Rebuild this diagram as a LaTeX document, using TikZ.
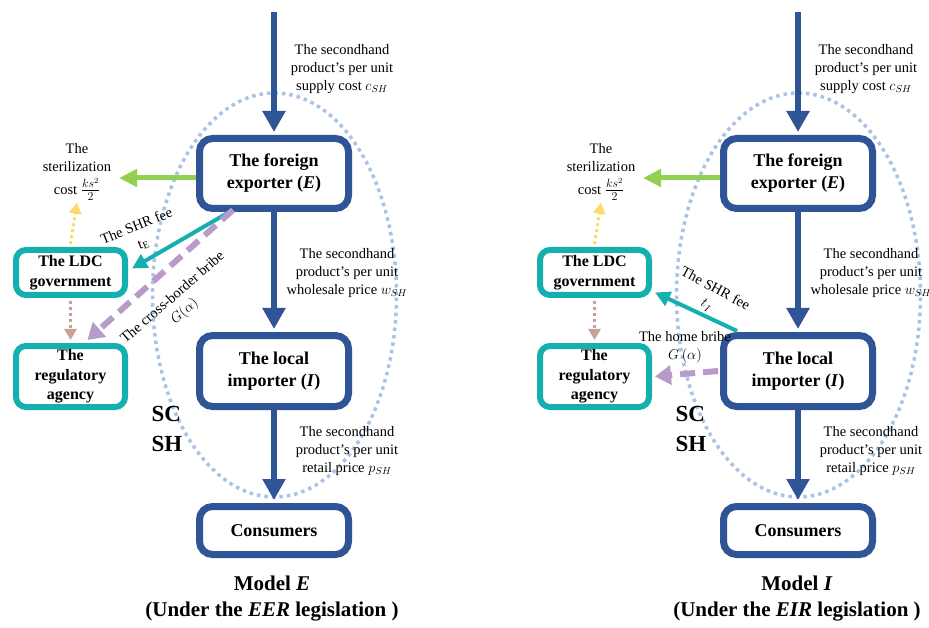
\documentclass[tikz,border=0pt]{standalone}
\usepackage{fontspec}
\setmainfont{Liberation Serif}
\usetikzlibrary{arrows.meta}
\definecolor{dblue}{HTML}{2F5597}
\definecolor{tealc}{HTML}{14B0B0}
\definecolor{greenc}{HTML}{92D050}
\definecolor{yellowc}{HTML}{FFD966}
\definecolor{brownc}{HTML}{C9A197}
\definecolor{purplec}{HTML}{B89BCB}
\definecolor{ellc}{HTML}{A9C3E8}
\newcommand{\sterfrac}{{\fontsize{17}{17}\selectfont$\frac{ks^2}{2}$}}
\tikzset{
  bluebox/.style={draw=dblue, line width=7pt, rounded corners=13pt, fill=white, minimum width=149pt, inner sep=0pt, align=center, font=\bfseries\fontsize{18}{22}\selectfont},
  tealbox/.style={draw=tealc, line width=6pt, rounded corners=10pt, fill=white, minimum width=109pt, inner sep=0pt, align=center, font=\bfseries\fontsize{16}{19.5}\selectfont},
  lbl/.style={align=center, inner sep=0pt, font=\fontsize{14.5}{18}\selectfont},
  bigarrow/.style={draw=dblue, line width=6pt, -{Triangle[width=22pt,length=21pt]}},
  greenarrow/.style={draw=greenc, line width=5pt, -{Triangle[width=17pt,length=18pt]}},
  tealarrow/.style={draw=tealc, line width=4pt, -{Triangle[width=15pt,length=15pt]}},
  purplearrow/.style={draw=purplec, line width=6pt, dash pattern=on 15pt off 8pt, -{Triangle[width=19pt,length=16pt]}},
  dotarrow/.style={line width=3pt, dash pattern=on 3pt off 3pt, -{Triangle[width=12pt,length=11pt]}},
  ell/.style={draw=ellc, line width=3.5pt, dash pattern=on 3.5pt off 4pt},
  scsh/.style={font=\bfseries\fontsize{23}{30}\selectfont, align=left, inner sep=0pt},
  model/.style={font=\bfseries\fontsize{21}{26}\selectfont, align=center, inner sep=0pt}
}
\begin{document}
\begin{tikzpicture}[x=1pt,y=-1pt]
\path[use as bounding box, fill=white] (0,0) rectangle (929,628);

% ===== Left panel (Model E) =====
\draw[ell] (274.5,295) ellipse [x radius=122pt, y radius=202pt];
\node[bluebox, minimum height=70pt] (exE) at (274,173.5) {The foreign\\exporter (\textit{E})};
\node[bluebox, minimum height=71pt] (imE) at (274,371) {The local\\importer (\textit{I})};
\node[bluebox, minimum height=48pt] (coE) at (274,530.5) {Consumers};
\node[tealbox, minimum height=45pt] (ldcE) at (70.5,272.5) {The LDC\\government};
\node[tealbox, minimum height=61pt] (regE) at (70.5,376.5) {The\\regulatory\\agency};
\coordinate (topE) at (274,12);
\coordinate (grE) at (119,178);
\node[lbl] (stE) at (77,172) {The\\sterilization\\[5pt]cost \sterfrac};

\draw[bigarrow] (topE) -- ([yshift=3pt]exE.north);
\draw[bigarrow] (exE.south) -- ([yshift=3pt]imE.north);
\draw[bigarrow] (imE.south) -- ([yshift=3pt]coE.north);
\draw[greenarrow] ([yshift=-4.5pt]exE.west) -- (grE);
\draw[dotarrow, draw=yellowc] ([yshift=3pt]ldcE.north) -- ([yshift=-2pt]stE.south);
\draw[dotarrow, draw=brownc] ([yshift=-3pt]ldcE.south) -- ([yshift=3pt]regE.north);
\draw[tealarrow] ([xshift=35pt,yshift=1pt]exE.south west) -- ([xshift=4pt,yshift=4pt]ldcE.east);
\draw[purplearrow] ([xshift=37pt,yshift=2pt]exE.south west) -- ([xshift=17pt,yshift=3pt]regE.north);

\node[lbl] (supE) at (342,69) {The secondhand\\product's per unit\\supply cost $c_{SH}$};
\node[lbl] (whE) at (347,273) {The secondhand\\product's per unit\\wholesale price $w_{SH}$};
\node[lbl] (reE) at (347,451) {The secondhand\\product's per unit\\retail price $p_{SH}$};
\node[lbl, rotate=22] (feeE) at (140,235) {The SHR fee\\$\mathrm{t}_{\mathrm{E}}$};
\node[lbl, rotate=41] (brE) at (179,305) {The cross-border bribe\\$G(\alpha)$};
\node[scsh] (scE) at (167,429) {SC\\SH};
\node[model] (mE) at (272,599) {Model \textit{E}\\(Under the \textit{EER} legislation )};

% ===== Right panel (Model I) =====
\draw[ell] (798.5,295) ellipse [x radius=122pt, y radius=202pt];
\node[bluebox, minimum height=70pt] (exI) at (798,173.5) {The foreign\\exporter (\textit{E})};
\node[bluebox, minimum height=71pt] (imI) at (798,371) {The local\\importer (\textit{I})};
\node[bluebox, minimum height=48pt] (coI) at (798,530.5) {Consumers};
\node[tealbox, minimum height=45pt] (ldcI) at (594.5,272.5) {The LDC\\government};
\node[tealbox, minimum height=61pt] (regI) at (594.5,376.5) {The\\regulatory\\agency};
\coordinate (topI) at (798,12);
\coordinate (grI) at (643,178);
\node[lbl] (stI) at (601,172) {The\\sterilization\\[5pt]cost \sterfrac};

\draw[bigarrow] (topI) -- ([yshift=3pt]exI.north);
\draw[bigarrow] (exI.south) -- ([yshift=3pt]imI.north);
\draw[bigarrow] (imI.south) -- ([yshift=3pt]coI.north);
\draw[greenarrow] ([yshift=-4.5pt]exI.west) -- (grI);
\draw[dotarrow, draw=yellowc] ([yshift=3pt]ldcI.north) -- ([yshift=-2pt]stI.south);
\draw[dotarrow, draw=brownc] ([yshift=-3pt]ldcI.south) -- ([yshift=3pt]regI.north);
\draw[tealarrow] ([xshift=17pt,yshift=1pt]imI.north west) -- ([xshift=3pt,yshift=-20pt]ldcI.east);
\draw[purplearrow] ([xshift=-2pt]imI.west) -- ([xshift=3pt]regI.east);

\node[lbl] (supI) at (866,69) {The secondhand\\product's per unit\\supply cost $c_{SH}$};
\node[lbl] (whI) at (871,273) {The secondhand\\product's per unit\\wholesale price $w_{SH}$};
\node[lbl] (reI) at (871,451) {The secondhand\\product's per unit\\retail price $p_{SH}$};
\node[lbl, rotate=-28] (feeI) at (711,297) {The SHR fee\\$t_I$};
\node[lbl] (brI) at (685,347) {The home bribe\\$G\,(\alpha)$};
\node[scsh] (scI) at (691,429) {SC\\SH};
\node[model] (mI) at (797,599) {Model \textit{I}\\(Under the \textit{EIR} legislation )};
\end{tikzpicture}
\end{document}
